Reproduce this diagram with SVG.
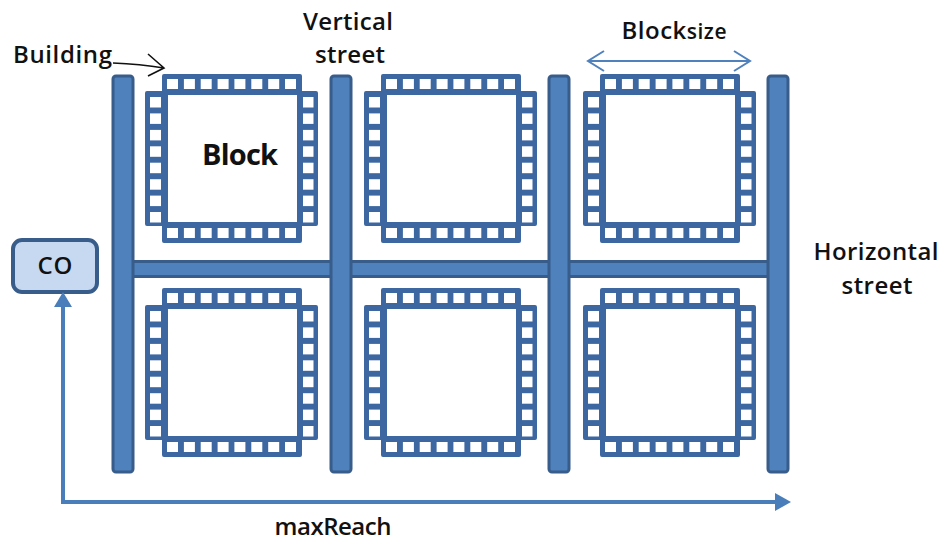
<svg xmlns="http://www.w3.org/2000/svg" width="945" height="545" viewBox="0 0 945 545">
<defs>
<style>
.lbl{font-family:"Open Sans","Liberation Sans",sans-serif;fill:#111;font-size:24px;font-weight:600}
.big{font-size:29px;font-weight:700}
.bar{fill:#4F81BD;stroke:#385D8A;stroke-width:3}
.chipbody{fill:#3C67A0}
.hole{fill:#fff}
.blue{stroke:#4A7EBB;fill:none}
</style>
<g id="chip">
<path class="chipbody" d="M19 0 H155 Q157 0 157 2 V17 H171 Q173 17 173 19 V150 Q173 152 171 152 H157 V167 Q157 169 155 169 H19 Q17 169 17 167 V152 H2 Q0 152 0 150 V19 Q0 17 2 17 H17 V2 Q17 0 19 0 Z"/>
<rect class="hole" x="23" y="21" width="129" height="127"/>
<g class="hole">
<rect x="22" y="5" width="11" height="10"/><rect x="38.9" y="5" width="11" height="10"/><rect x="55.7" y="5" width="11" height="10"/><rect x="72.6" y="5" width="11" height="10"/><rect x="89.4" y="5" width="11" height="10"/><rect x="106.3" y="5" width="11" height="10"/><rect x="123.2" y="5" width="11" height="10"/><rect x="140" y="5" width="11" height="10"/>
<rect x="22" y="154" width="11" height="10"/><rect x="38.9" y="154" width="11" height="10"/><rect x="55.7" y="154" width="11" height="10"/><rect x="72.6" y="154" width="11" height="10"/><rect x="89.4" y="154" width="11" height="10"/><rect x="106.3" y="154" width="11" height="10"/><rect x="123.2" y="154" width="11" height="10"/><rect x="140" y="154" width="11" height="10"/>
<rect x="5" y="23" width="11" height="10.5"/><rect x="5" y="39.4" width="11" height="10.5"/><rect x="5" y="55.9" width="11" height="10.5"/><rect x="5" y="72.3" width="11" height="10.5"/><rect x="5" y="88.7" width="11" height="10.5"/><rect x="5" y="105.2" width="11" height="10.5"/><rect x="5" y="121.6" width="11" height="10.5"/><rect x="5" y="138" width="11" height="10.5"/>
<rect x="158" y="23" width="10.5" height="10.5"/><rect x="158" y="39.4" width="10.5" height="10.5"/><rect x="158" y="55.9" width="10.5" height="10.5"/><rect x="158" y="72.3" width="10.5" height="10.5"/><rect x="158" y="88.7" width="10.5" height="10.5"/><rect x="158" y="105.2" width="10.5" height="10.5"/><rect x="158" y="121.6" width="10.5" height="10.5"/><rect x="158" y="138" width="10.5" height="10.5"/>
</g>
</g>
</defs>
<rect width="945" height="545" fill="#fff"/>

<g id="horizontal-street"><rect class="bar" x="130" y="261.5" width="640" height="15"/></g>
<g id="vertical-streets">
<rect class="bar" x="113" y="76" width="20" height="396" rx="3"/>
<rect class="bar" x="331" y="76" width="20" height="396" rx="3"/>
<rect class="bar" x="549" y="76" width="20" height="396" rx="3"/>
<rect class="bar" x="768" y="76" width="20" height="396" rx="3"/>
</g>

<g id="block-1-1"><use href="#chip" x="145" y="74"/></g>
<g id="block-1-2"><use href="#chip" x="364" y="74"/></g>
<g id="block-1-3"><use href="#chip" x="583" y="74"/></g>
<g id="block-2-1"><use href="#chip" x="145" y="288"/></g>
<g id="block-2-2"><use href="#chip" x="364" y="288"/></g>
<g id="block-2-3"><use href="#chip" x="583" y="288"/></g>

<g id="co">
<rect x="13" y="240" width="84" height="52" rx="9" fill="#C6D9F1" stroke="#385D8A" stroke-width="4"/>
<text class="lbl" x="55" y="274" text-anchor="middle" textLength="35">CO</text>
</g>

<g id="connectors">
<path class="blue" stroke-width="4" d="M63 306 V502 H776"/>
<path d="M54 307 L63 292 L72 307 Z" fill="#4A7EBB"/>
<path d="M775 493 L791 502 L775 511 Z" fill="#4A7EBB"/>
<path d="M588 61 H750 M604 51 L588 61 L604 71 M734 51 L750 61 L734 71" fill="none" stroke="#4F81BD" stroke-width="2"/>
<path d="M113 63 Q140 64 164 68 M148 54 L164 68 L148 76" fill="none" stroke="#111" stroke-width="1.6"/>
</g>

<g id="labels">
<text class="lbl" x="13" y="63" textLength="99">Building</text>
<text class="lbl" x="348" y="30" text-anchor="middle" textLength="90">Vertical</text>
<text class="lbl" x="350" y="63" text-anchor="middle" textLength="70">street</text>
<text class="lbl big" x="240" y="165" text-anchor="middle" textLength="76">Block</text>
<text class="lbl" x="674" y="39" text-anchor="middle" textLength="105">Block<tspan font-size="21">size</tspan></text>
<text class="lbl" x="876" y="260" text-anchor="middle" textLength="125">Horizontal</text>
<text class="lbl" x="877" y="294" text-anchor="middle" textLength="71">street</text>
<text class="lbl" x="333" y="535" text-anchor="middle" textLength="117">maxReach</text>
</g>
</svg>
